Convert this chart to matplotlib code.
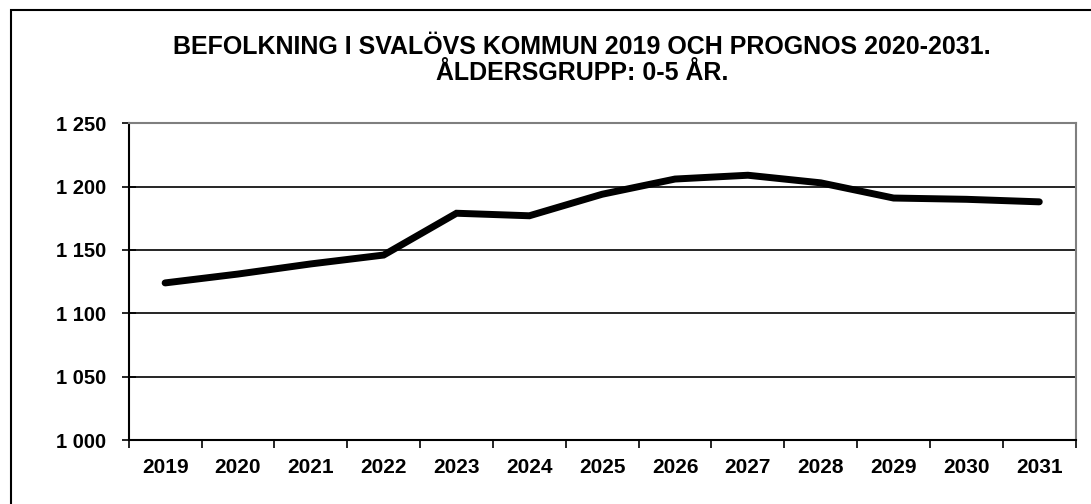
import matplotlib
matplotlib.use("Agg")
import matplotlib.pyplot as plt
from matplotlib.patches import Rectangle

years = ["2019", "2020", "2021", "2022", "2023", "2024", "2025", "2026",
         "2027", "2028", "2029", "2030", "2031"]
population = [1124, 1131, 1139, 1146, 1179, 1177, 1194, 1206, 1209, 1203, 1191, 1190, 1188]
yticks = [1000, 1050, 1100, 1150, 1200, 1250]
ytick_labels = ["1 000", "1 050", "1 100", "1 150", "1 200", "1 250"]
title_line1 = "BEFOLKNING I SVALÖVS KOMMUN 2019 OCH PROGNOS 2020-2031."
title_line2 = "ÅLDERSGRUPP: 0-5 ÅR."

W, H = 1091, 504
fig = plt.figure(figsize=(W / 100, H / 100), dpi=100)

# outer frame
fig.patches.append(Rectangle((11 / W, -0.05), 1.2, (H - 10) / H + 0.05,
                             transform=fig.transFigure, fill=False,
                             edgecolor="black", linewidth=1.5))

ax_l, ax_r, ax_t, ax_b = 128.7, 1075.7, 123.3, 440.0
ax = fig.add_axes([ax_l / W, (H - ax_b) / H, (ax_r - ax_l) / W, (ax_b - ax_t) / H])

x = list(range(len(years)))
ax.plot(x, population, color="black", linewidth=5.0, solid_capstyle="round",
        solid_joinstyle="miter", zorder=3)

ax.set_xlim(-0.5, len(years) - 0.5)
ax.set_ylim(1000, 1250)
ax.set_yticks(yticks)
ax.set_yticklabels(ytick_labels)
for v in yticks[1:-1]:
    ax.axhline(v, color="black", linewidth=1.2, zorder=1)

ax.set_xticks([i - 0.5 for i in range(len(years) + 1)])
ax.set_xticklabels([])
ax.set_xticks(x, minor=True)
ax.set_xticklabels(years, minor=True)
ax.tick_params(axis="x", which="major", direction="out", length=6, width=1.2, color="black")
ax.tick_params(axis="x", which="minor", length=0, pad=13)
ax.tick_params(axis="y", direction="inout", length=10, width=1.2, pad=11)

for lab in ax.get_xticklabels(minor=True):
    lab.set_fontfamily("Liberation Sans")
    lab.set_fontweight("bold")
    lab.set_fontsize(15)
for lab in ax.get_yticklabels():
    lab.set_fontfamily("Liberation Sans")
    lab.set_fontweight("bold")
    lab.set_fontsize(14.5)

ax.spines["left"].set_color("black")
ax.spines["left"].set_linewidth(1.5)
ax.spines["bottom"].set_color("black")
ax.spines["bottom"].set_linewidth(1.5)
ax.spines["top"].set_color("#7f7f7f")
ax.spines["top"].set_linewidth(1.5)
ax.spines["right"].set_color("#7f7f7f")
ax.spines["right"].set_linewidth(1.5)

fig.text(582 / W, 1 - 47.5 / H, title_line1, ha="center", va="center",
         fontfamily="Liberation Sans", fontweight="bold", fontsize=18)
fig.text(582 / W, 1 - 73.5 / H, title_line2, ha="center", va="center",
         fontfamily="Liberation Sans", fontweight="bold", fontsize=18)

fig.savefig("out.png", dpi=100)
